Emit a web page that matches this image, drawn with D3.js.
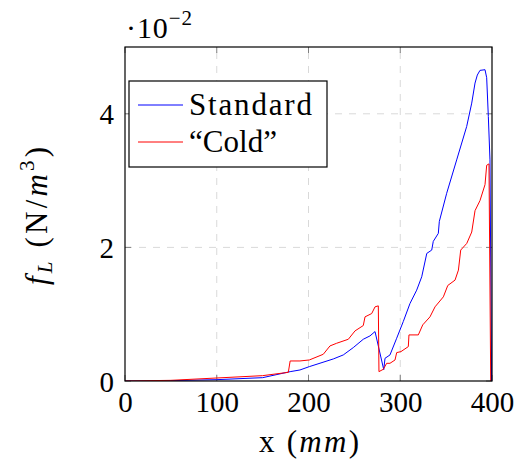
<!DOCTYPE html>
<html><head><meta charset="utf-8">
<script src="https://cdn.jsdelivr.net/npm/d3@7/dist/d3.min.js"></script>
<style>body{margin:0;background:#fff}svg{display:block}svg text{font-family:"Liberation Serif","DejaVu Serif",serif !important;fill:#000}</style>
</head><body>
<script>
// Data (y values in units of 10^-2 N/m^3)
const standardX = [0, 50, 100, 150, 180, 190.7, 200.9, 227, 237.9, 248.8, 259.7, 267, 272.5, 282, 283.4, 288.8, 296.1, 303.3, 310.6, 317.9, 323.4, 328.9, 334.3, 336, 341.5, 342.6, 350.6, 361.5, 372.4, 377.9, 381.5, 384, 386.9, 392.4, 394.2, 396, 397.8, 399.5];
const standardY = [0, 0.005, 0.02, 0.05, 0.14, 0.165, 0.215, 0.33, 0.39, 0.50, 0.625, 0.675, 0.74, 0.17, 0.34, 0.39, 0.64, 0.89, 1.16, 1.36, 1.56, 1.91, 1.96, 2.09, 2.21, 2.39, 2.81, 3.31, 3.81, 4.16, 4.46, 4.58, 4.65, 4.66, 4.54, 3.96, 3.31, 0];
const coldX = [0, 50, 100, 150, 178, 180, 190.7, 200.9, 216.1, 223.4, 230.7, 243.4, 250.7, 259.7, 261.6, 268.9, 272.5, 276.1, 276.8, 281.5, 285.2, 288.8, 294.3, 296.1, 300.8, 308.8, 309.5, 319.7, 324.5, 332.4, 337.9, 347, 351.8, 359.7, 363.4, 365.9, 372.5, 377.9, 381.5, 386.9, 392.4, 394.2, 396.7, 398.6];
const coldY = [0, 0.01, 0.045, 0.08, 0.13, 0.30, 0.30, 0.315, 0.40, 0.525, 0.565, 0.625, 0.75, 0.83, 0.96, 1.01, 1.11, 1.125, 0.14, 0.175, 0.265, 0.265, 0.315, 0.425, 0.44, 0.515, 0.69, 0.69, 0.84, 0.96, 1.11, 1.26, 1.43, 1.51, 1.66, 1.96, 2.06, 2.23, 2.55, 2.70, 2.94, 3.23, 3.25, 0];
const xTicks = [0, 100, 200, 300, 400];
const yTicks = [0, 2, 4];
const seriesNames = ["Standard", "\u201CCold\u201D"];
const seriesColors = ["#0000ff", "#ff0000"];

const W = 519, H = 463;
const m = {l: 125, r: 27, t: 47, b: 82};
const svg = d3.select("body").append("svg").attr("width", W).attr("height", H);
const x = d3.scaleLinear().domain([0, 400]).range([m.l, W - m.r]);
const y = d3.scaleLinear().domain([0, 5]).range([H - m.b, m.t]);
const FS = 29;

// grid
const g = svg.append("g");
g.selectAll(".gx").data(xTicks.slice(1, -1)).join("line")
  .attr("x1", d => x(d)).attr("x2", d => x(d)).attr("y1", y(0)).attr("y2", y(5))
  .attr("stroke", "#d9d9d9").attr("stroke-width", 1).attr("stroke-dasharray", "7,7");
g.selectAll(".gy").data(yTicks.slice(1)).join("line")
  .attr("y1", d => y(d)).attr("y2", d => y(d)).attr("x1", x(0)).attr("x2", x(400))
  .attr("stroke", "#d9d9d9").attr("stroke-width", 1).attr("stroke-dasharray", "7,7");

// inner tick marks on all sides
const tl = 6;
const tk = svg.append("g").attr("stroke", "#808080").attr("stroke-width", 1);
xTicks.forEach(d => {
  tk.append("line").attr("x1", x(d)).attr("x2", x(d)).attr("y1", y(0)).attr("y2", y(0) - tl);
  tk.append("line").attr("x1", x(d)).attr("x2", x(d)).attr("y1", y(5)).attr("y2", y(5) + tl);
});
yTicks.forEach(d => {
  tk.append("line").attr("y1", y(d)).attr("y2", y(d)).attr("x1", x(0)).attr("x2", x(0) + tl);
  tk.append("line").attr("y1", y(d)).attr("y2", y(d)).attr("x1", x(400)).attr("x2", x(400) - tl);
});

// lines
const line = d3.line().x(d => x(d[0])).y(d => y(d[1]));
svg.append("clipPath").attr("id", "c").append("rect")
  .attr("x", x(0)).attr("y", y(5)).attr("width", x(400) - x(0)).attr("height", y(0) - y(5));
svg.append("path").datum(standardX.map((v, i) => [v, standardY[i]]))
  .attr("d", line).attr("fill", "none").attr("stroke", seriesColors[0]).attr("stroke-width", 1).attr("clip-path", "url(#c)");
svg.append("path").datum(coldX.map((v, i) => [v, coldY[i]]))
  .attr("d", line).attr("fill", "none").attr("stroke", seriesColors[1]).attr("stroke-width", 1).attr("clip-path", "url(#c)");

// frame
svg.append("rect").attr("x", x(0)).attr("y", y(5)).attr("width", x(400) - x(0)).attr("height", y(0) - y(5))
  .attr("fill", "none").attr("stroke", "#000").attr("stroke-width", 1.2);

// tick labels via d3 axes (domain/ticks hidden)
const ax = svg.append("g").attr("transform", `translate(0,${y(0)})`)
  .call(d3.axisBottom(x).tickValues(xTicks).tickSize(0).tickPadding(10).tickFormat(d3.format("d")));
ax.attr("font-family", null);
ax.select(".domain").remove();
ax.selectAll("text").attr("font-size", FS).attr("dy", "0.71em");
const ay = svg.append("g").attr("transform", `translate(${x(0)},0)`)
  .call(d3.axisLeft(y).tickValues(yTicks).tickSize(0).tickPadding(11).tickFormat(d3.format("d")));
ay.attr("font-family", null);
ay.select(".domain").remove();
ay.selectAll("text").attr("font-size", FS).attr("dy", "0.35em");

// scale factor label
const sf = svg.append("text").attr("x", 126).attr("y", 38).attr("font-size", 30)
  .attr("textLength", 66).attr("lengthAdjust", "spacing");
sf.append("tspan").text("\u00B710");
sf.append("tspan").attr("font-size", 21).attr("dy", -13).text("\u22122");

// x label
const xl = svg.append("text").attr("x", 259).attr("y", 452).attr("font-size", 31)
  .attr("textLength", 100).attr("lengthAdjust", "spacing");
xl.append("tspan").text("x (");
xl.append("tspan").attr("font-style", "italic").text("mm");
xl.append("tspan").text(")");

// y label
const yl = svg.append("text").attr("transform", "translate(47,285) rotate(-90)").attr("font-size", 31)
  .attr("textLength", 138).attr("lengthAdjust", "spacing");
yl.append("tspan").attr("font-style", "italic").text("f");
yl.append("tspan").attr("font-style", "italic").attr("font-size", 21).attr("dy", 5).text("L");
yl.append("tspan").attr("dy", -5).text(" (N/");
yl.append("tspan").attr("font-style", "italic").text("m");
yl.append("tspan").attr("font-size", 21).attr("dy", -13).text("3");
yl.append("tspan").attr("dy", 13).text(")");

// legend
const lg = svg.append("g");
lg.append("rect").attr("x", 129).attr("y", 81).attr("width", 198).attr("height", 86)
  .attr("fill", "#fff").attr("stroke", "#000").attr("stroke-width", 1.2);
const ly = [105, 142];
const lw = [123, 88];
seriesNames.forEach((n, i) => {
  lg.append("line").attr("x1", 138).attr("x2", 183).attr("y1", ly[i]).attr("y2", ly[i])
    .attr("stroke", seriesColors[i]).attr("stroke-width", 1);
  lg.append("text").attr("x", 189).attr("y", ly[i] + 10).attr("font-size", 31)
    .attr("textLength", lw[i]).attr("lengthAdjust", "spacing").text(n);
});
</script>
</body></html>
